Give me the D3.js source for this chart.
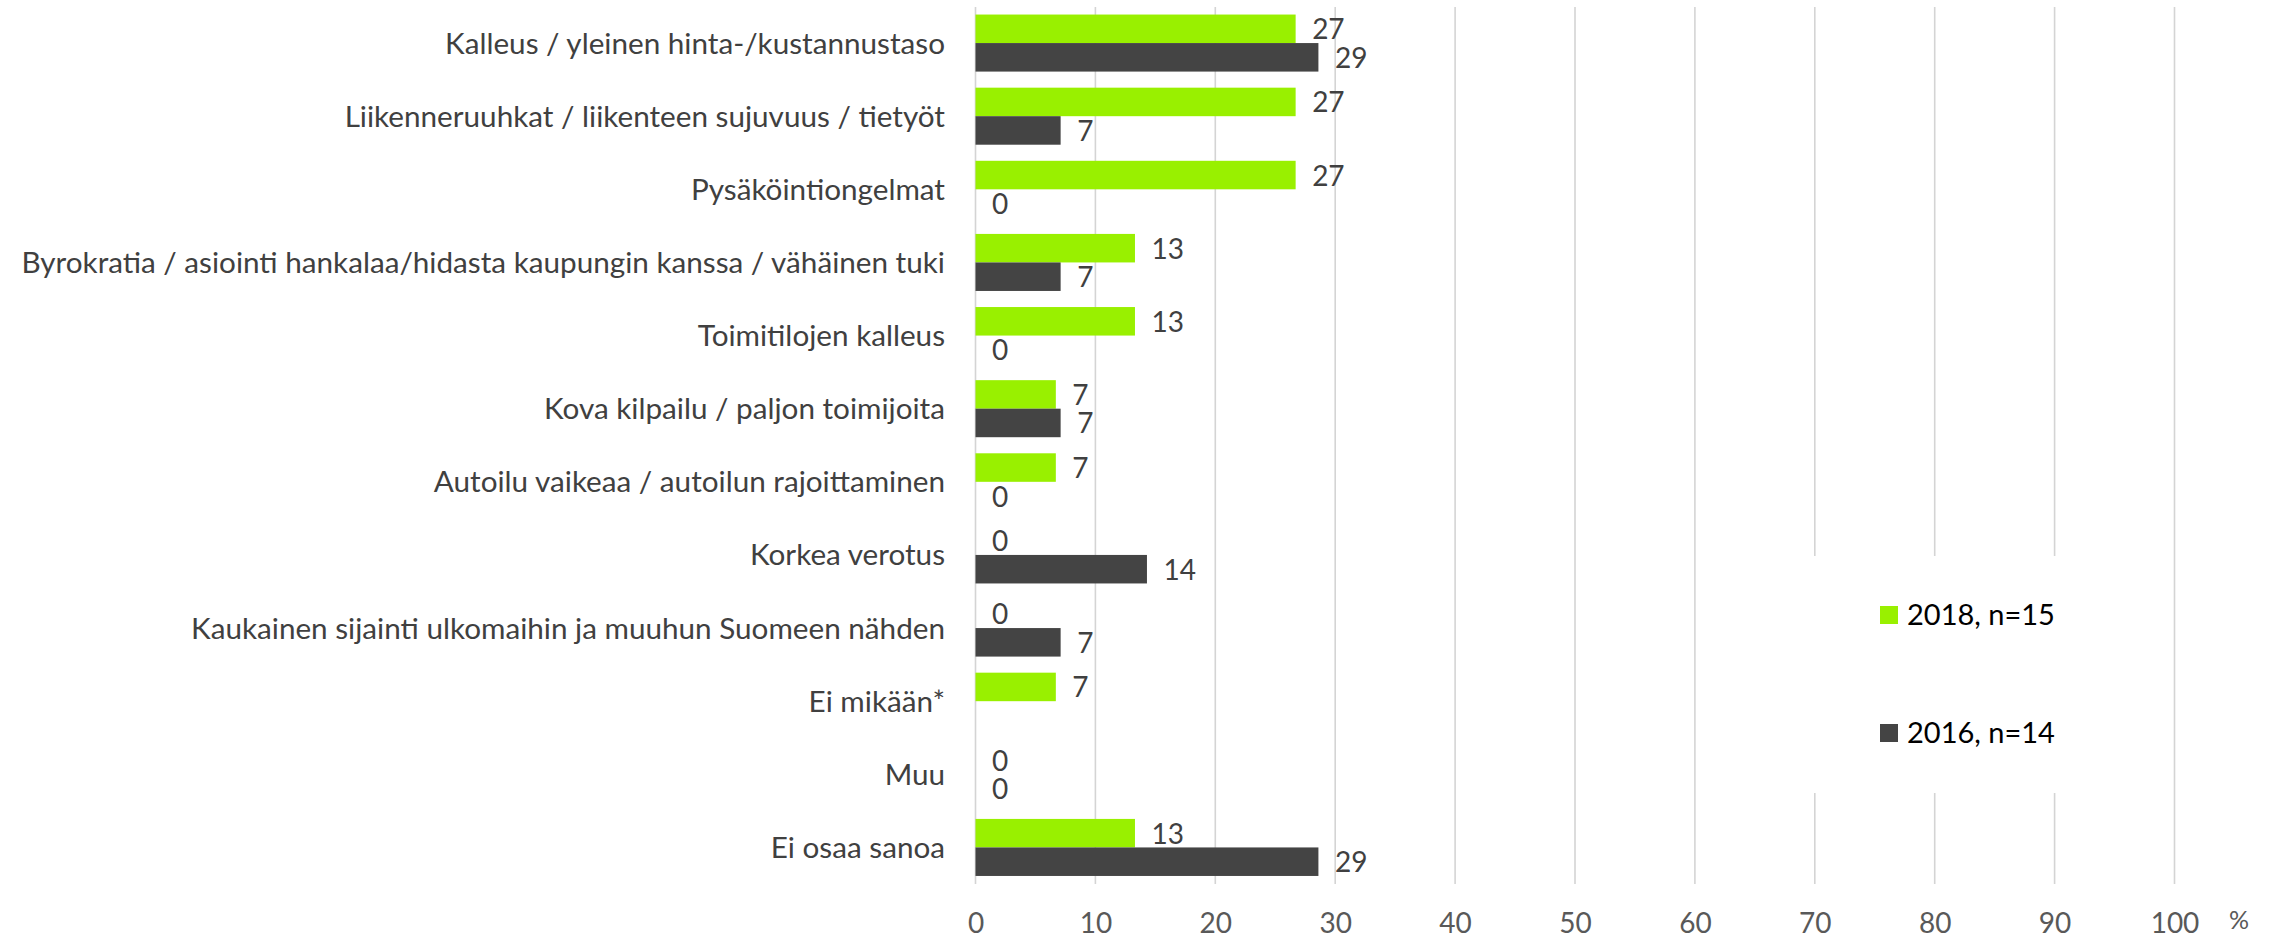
<!DOCTYPE html>
<html>
<head>
<meta charset="utf-8">
<script src="https://cdn.jsdelivr.net/npm/d3@7"></script>
<style>
  html, body { margin: 0; padding: 0; background: #ffffff; }
  svg { display: block; font-family: Lato, "Open Sans", sans-serif; }
</style>
</head>
<body>
<svg id="chart" width="2275" height="939"></svg>
<script>
// Categories, top to bottom
const categories = [
  "Kalleus / yleinen hinta-/kustannustaso",
  "Liikenneruuhkat / liikenteen sujuvuus / tietyöt",
  "Pysäköintiongelmat",
  "Byrokratia / asiointi hankalaa/hidasta kaupungin kanssa / vähäinen tuki",
  "Toimitilojen kalleus",
  "Kova kilpailu / paljon toimijoita",
  "Autoilu vaikeaa / autoilun rajoittaminen",
  "Korkea verotus",
  "Kaukainen sijainti ulkomaihin ja muuhun Suomeen nähden",
  "Ei mikään*",
  "Muu",
  "Ei osaa sanoa"
];

// Series names (legend)
const seriesNames = ["2018, n=15", "2016, n=14"];

// Shares of respondents, %
const values2018 = [26.7, 26.7, 26.7, 13.3, 13.3, 6.7, 6.7, 0, 0, 6.7, 0, 13.3];
const values2016 = [28.6, 7.1, 0, 7.1, 0, 7.1, 0, 14.3, 7.1, null, 0, 28.6];

// X axis ticks
const xTicks = [0, 10, 20, 30, 40, 50, 60, 70, 80, 90, 100];

const seriesColors = ["#99f000", "#444444"];

const svg = d3.select("#chart");

const x = d3.scaleLinear().domain([0, 100]).range([975.5, 2174.5]);
const y = d3.scaleBand()
  .domain(categories)
  .range([6.5, 884])
  .paddingInner(0.22)
  .paddingOuter(0.11);
const ySeries = d3.scaleBand()
  .domain(seriesNames)
  .range([0, y.bandwidth()])
  .padding(0);
const color = d3.scaleOrdinal().domain(seriesNames).range(seriesColors);

// Vertical gridlines
svg.append("g")
  .selectAll("line")
  .data(xTicks)
  .join("line")
  .attr("x1", d => x(d)).attr("x2", d => x(d))
  .attr("y1", 7).attr("y2", 884)
  .attr("stroke", "#d4d4d4")
  .attr("stroke-width", 1.6);

// Rows of data: one entry per category and series
const rows = [];
categories.forEach((c, i) => {
  rows.push({ cat: c, series: seriesNames[0], value: values2018[i] });
  rows.push({ cat: c, series: seriesNames[1], value: values2016[i] });
});
const present = rows.filter(r => r.value !== null);

// Bars
svg.append("g")
  .selectAll("rect")
  .data(present)
  .join("rect")
  .attr("x", x(0))
  .attr("y", d => y(d.cat) + ySeries(d.series))
  .attr("width", d => x(d.value) - x(0))
  .attr("height", ySeries.bandwidth())
  .attr("fill", d => color(d.series));

// Value labels
const fmt = d3.format(".0f");
svg.append("g")
  .selectAll("text")
  .data(present)
  .join("text")
  .attr("x", d => x(d.value) + 16.5)
  .attr("y", d => y(d.cat) + ySeries(d.series) + ySeries.bandwidth() / 2 + 10.5)
  .attr("fill", "#404040")
  .style("font-size", "28px")
  .text(d => fmt(d.value));

// Category labels, right aligned before the zero line
const catLabels = svg.append("g")
  .selectAll("text")
  .data(categories)
  .join("text")
  .attr("text-anchor", "end")
  .attr("fill", "#404040")
  .style("font-size", "29px")
  .text(d => d);
const longest = catLabels.filter(d => d === categories[3]).node().getComputedTextLength();
const sx = 924 / longest;
catLabels.attr("transform", d =>
  `translate(945,${y(d) + y.bandwidth() / 2 + 10.5}) scale(${sx},1)`);

// X axis labels
const xAxis = d3.axisBottom(x).tickValues(xTicks).tickSize(0).tickPadding(18);
const axisG = svg.append("g")
  .attr("transform", "translate(0,895)")
  .call(xAxis);
axisG.select(".domain").remove();
axisG.selectAll("text")
  .attr("fill", "#595959")
  .style("font-size", "28px")
  .style("font-family", "Lato, 'Open Sans', sans-serif");

svg.append("text")
  .attr("x", 2229)
  .attr("y", 929)
  .attr("fill", "#595959")
  .style("font-size", "25px")
  .text("%");

// Legend on a white panel over the gridlines
svg.append("rect")
  .attr("x", 1760).attr("y", 556)
  .attr("width", 360).attr("height", 237)
  .attr("fill", "#ffffff");

const legendY = [615, 733];
const legend = svg.append("g")
  .selectAll("g")
  .data(seriesNames)
  .join("g")
  .attr("transform", (d, i) => `translate(1880,${legendY[i]})`);
legend.append("rect")
  .attr("x", 0).attr("y", -9)
  .attr("width", 18).attr("height", 18)
  .attr("fill", d => color(d));
legend.append("text")
  .attr("x", 27)
  .attr("y", 9.5)
  .attr("fill", "#000000")
  .style("font-size", "29px")
  .text(d => d);
</script>
</body>
</html>
